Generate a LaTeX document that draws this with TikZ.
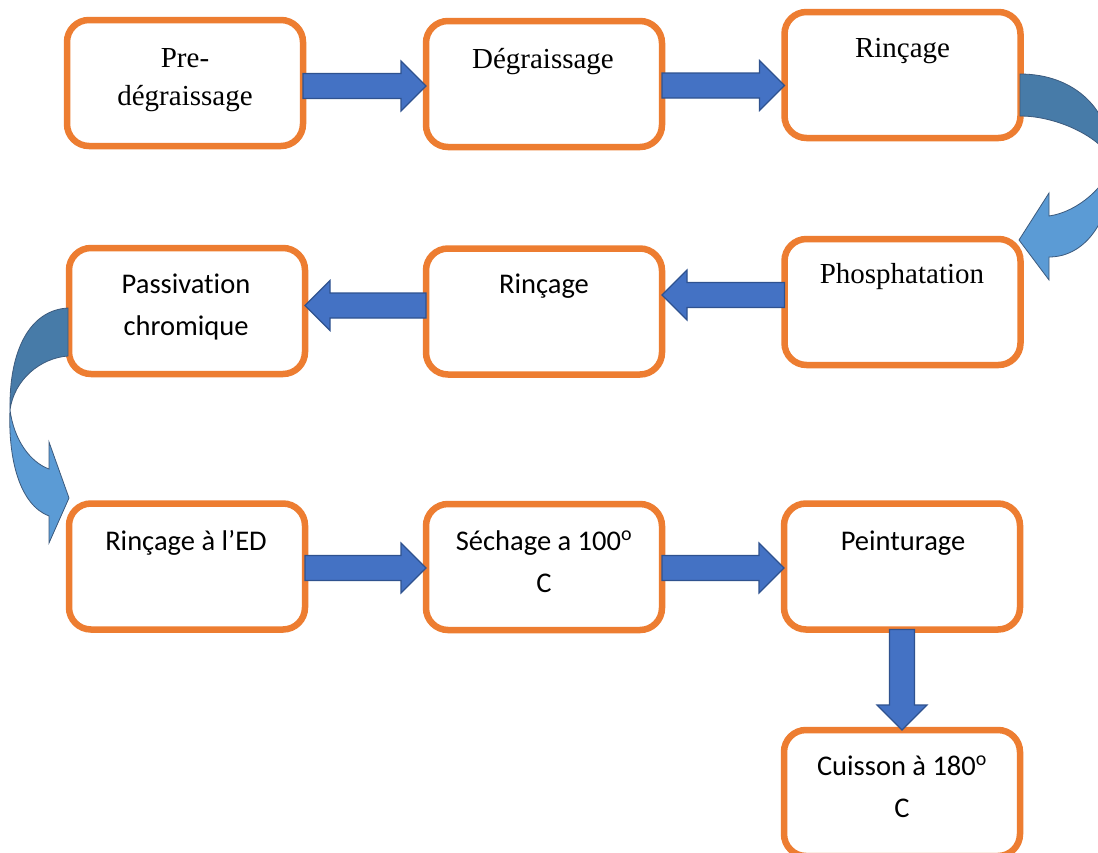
\documentclass[tikz,border=0pt]{standalone}
\usepackage{fontspec}
\setmainfont{Liberation Serif}
\newfontfamily\calibri[Ligatures={TeX,NoCommon}]{Carlito}
\usetikzlibrary{calc}
\definecolor{boxorange}{RGB}{237,125,49}
\definecolor{arrowblue}{RGB}{68,114,196}
\definecolor{arrowedge}{RGB}{47,82,143}
\definecolor{curvedark}{RGB}{71,123,168}
\definecolor{curvelight}{RGB}{91,155,213}
\definecolor{curveedge}{RGB}{60,90,125}
\tikzset{stepbox/.style={draw=boxorange, fill=white, line width=6.5pt, rounded corners=22pt, minimum width=236pt, minimum height=126pt, outer sep=0pt, inner sep=0pt},serifnode/.style={anchor=base, align=center, inner sep=0pt, font=\fontsize{29}{38}\selectfont},sansnode/.style={anchor=base, align=center, inner sep=0pt, font=\calibri\fontsize{28.5}{42}\selectfont}}

\begin{document}
\begin{tikzpicture}[
        x=1pt, y=-1pt,
        line join=miter,
        flowarrow/.style={draw=arrowedge, fill=arrowblue, line width=1.2pt,
            to path={let \p1=(\tikztostart), \p2=(\tikztotarget),
                \n1={atan2(\y2-\y1,\x2-\x1)}, \n2={veclen(\x2-\x1,\y2-\y1)} in
                [shift={(\p1)}, rotate=\n1]
                (0pt,12.5pt) -- (\n2-25pt,12.5pt) -- (\n2-25pt,25pt) -- (\n2,0pt)
                -- (\n2-25pt,-25pt) -- (\n2-25pt,-12.5pt) -- (0pt,-12.5pt) -- cycle}},
        curveband/.style={draw=curveedge, line width=0.8pt}
    ]
        \path[fill=white, use as bounding box] (0,0) rectangle (1098,852);
        \clip (0,0) rectangle (1098,852);
        % Boxes
        \node[stepbox] (pre) at (185,83) {};
        \node[stepbox] (degr) at (544,84) {};
        \node[stepbox] (rinc1) at (902.5,75) {};
        \node[stepbox] (phos) at (902.5,302) {};
        \node[stepbox] (rinc2) at (544,311.5) {};
        \node[stepbox] (passiv) at (187,311) {};
        \node[stepbox] (rinced) at (187,566.5) {};
        \node[stepbox] (sech) at (544,567) {};
        \node[stepbox] (peint) at (902,566.5) {};
        \node[stepbox] (cuis) at (902,793) {};
        % Texts (base = last line)
        \node[serifnode] (tpre) at (185,105) {Pre-\\dégraissage};
        \node[serifnode] (tdegr) at (543,68) {Dégraissage};
        \node[serifnode] (trinc1) at (902.5,57) {Rinçage};
        \node[serifnode] (tphos) at (902,283) {Phosphatation};
        \node[sansnode] (trinc2) at (544,293) {Rinçage};
        \node[sansnode] (tpassiv) at (186,335) {Passivation\\chromique};
        \node[sansnode] (trinced) at (186,550) {Rinçage à l’ED};
        \node[sansnode] (tsech) at (544,592) {Séchage a 100\textsuperscript{o}\\C};
        \node[sansnode] (tpeint) at (903,550) {Peinturage};
        \node[sansnode] (tcuis) at (902,817) {Cuisson à 180\textsuperscript{o}\\C};
        % Arrows
        \draw[flowarrow] ([yshift=-3pt]pre.east) to ([yshift=-2pt]degr.west);
        \draw[flowarrow] ([yshift=-1.5pt]degr.east) to ([yshift=-10.5pt]rinc1.west);
        \draw[flowarrow] ([yshift=7pt]phos.west) to ([yshift=16.5pt]rinc2.east);
        \draw[flowarrow] ([yshift=6pt]rinc2.west) to ([yshift=5.5pt]passiv.east);
        \draw[flowarrow] ([yshift=-1.5pt]rinced.east) to ([yshift=-1pt]sech.west);
        \draw[flowarrow] ([yshift=-1pt]sech.east) to ([yshift=-1.5pt]peint.west);
        \draw[flowarrow] (peint.south) to (cuis.north);
        % Curved arrow, right
        \filldraw[curveband, fill=curvedark] (1020,74) .. controls (1075,74) and (1112,110) .. (1112,162)
            .. controls (1105,140) and (1060,116) .. (1020,116) -- cycle;
        \filldraw[curveband, fill=curvelight] (1112,162) .. controls (1108,185) and (1078,212) .. (1049,216)
            -- (1049,193) -- (1019,240) -- (1049,280) -- (1049,257)
            .. controls (1088,257) and (1114,215) .. (1112,162) -- cycle;
        % Curved arrow, left
        \filldraw[curveband, fill=curvedark] (68,308) .. controls (30,310) and (9,350) .. (10,410)
            .. controls (14,380) and (40,358) .. (68,356) -- cycle;
        \filldraw[curveband, fill=curvelight] (10,410) .. controls (14,440) and (30,462) .. (49,469)
            -- (49,442) -- (69,498) -- (49,543) -- (49,516)
            .. controls (20,505) and (8,460) .. (10,410) -- cycle;
    \end{tikzpicture}
\end{document}
